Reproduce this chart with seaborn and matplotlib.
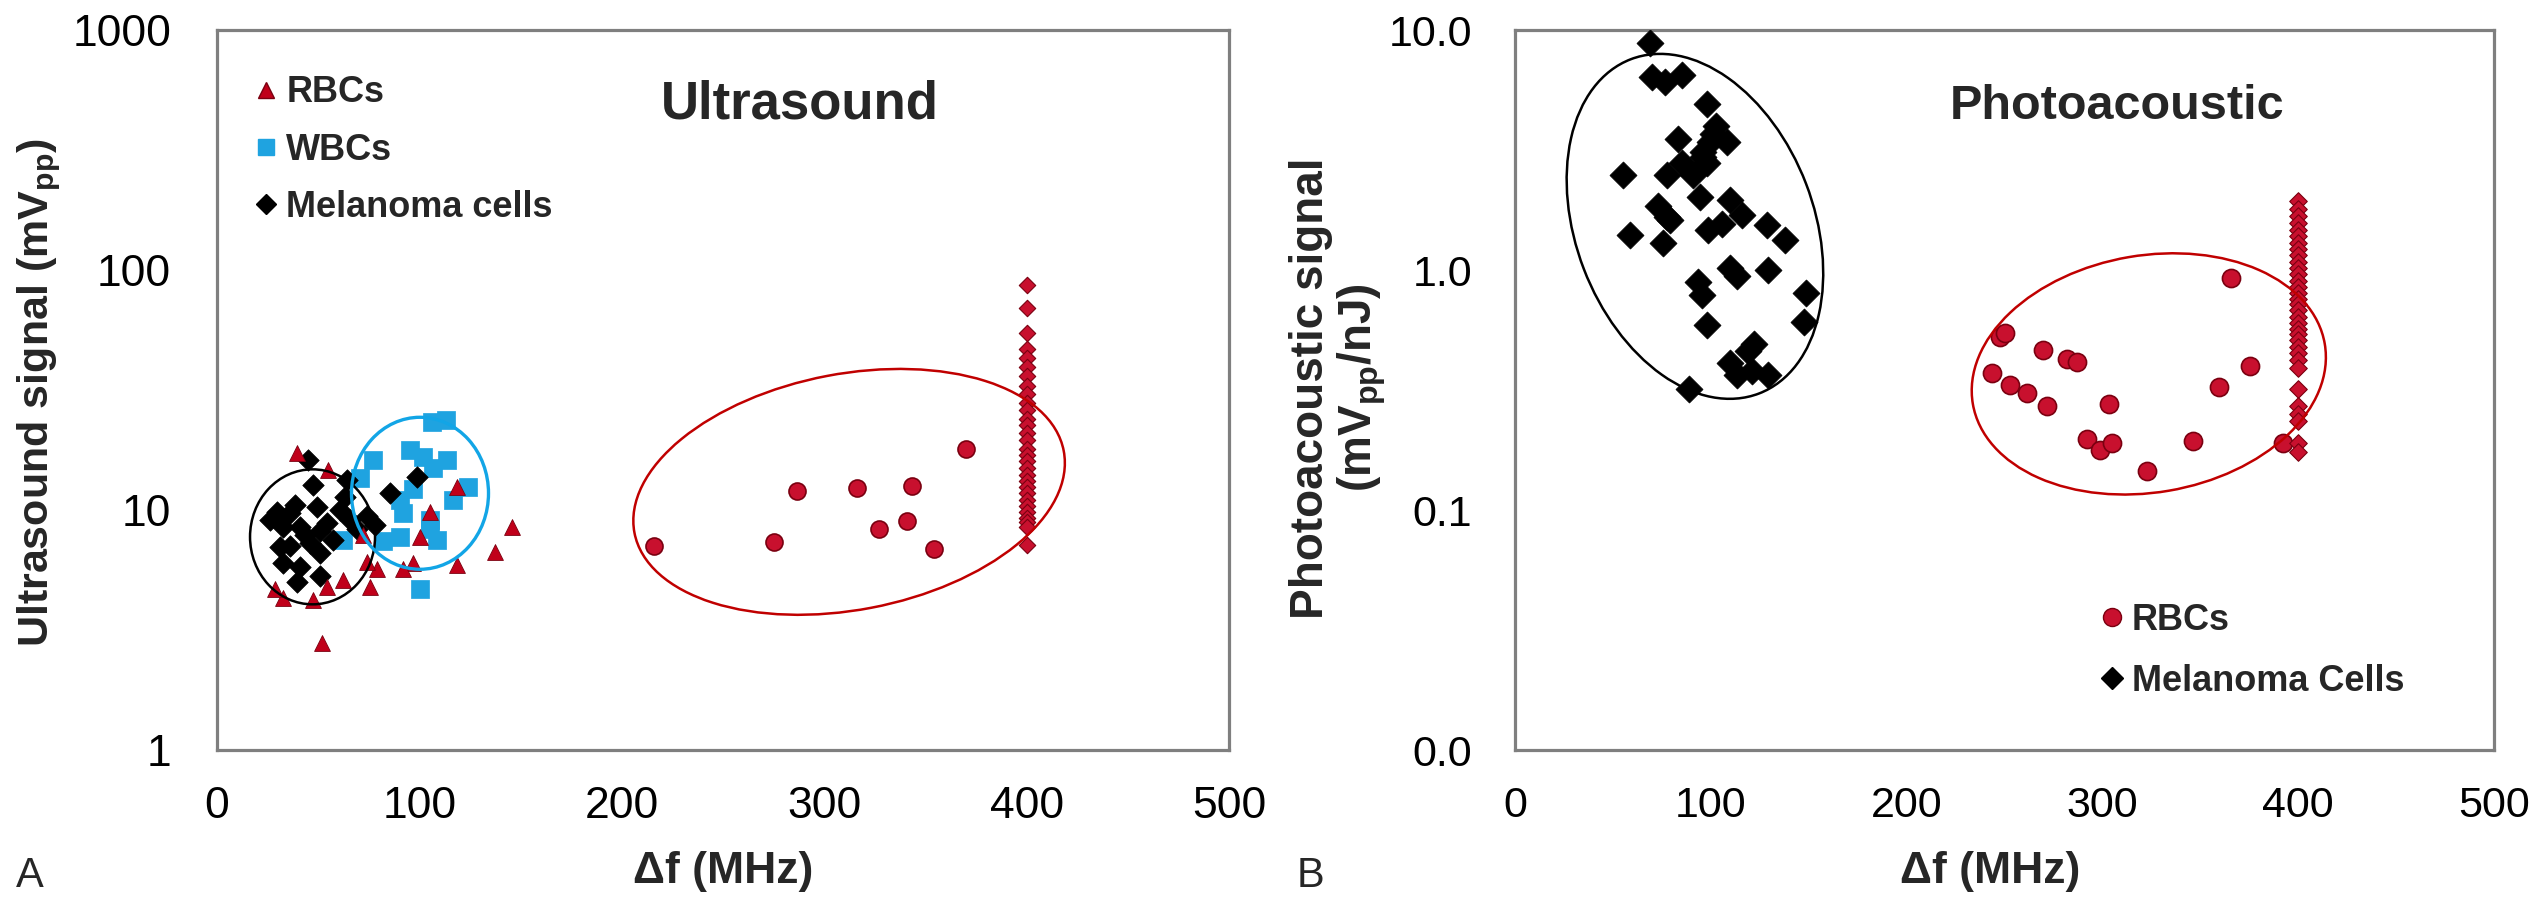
import matplotlib
matplotlib.use("Agg")
import matplotlib.pyplot as plt
import seaborn as sns
import pandas as pd
from matplotlib.patches import Ellipse
from matplotlib.lines import Line2D
from matplotlib.transforms import IdentityTransform
import matplotlib.ticker as mticker

# ---------------- Data ----------------
# Panel A: Ultrasound signal (mVpp) vs delta f (MHz)
us_rbc_tri_f = [39.5, 54.8, 105.2, 118.6, 145.7, 137.3, 118.6, 100.3, 96.8, 91.9, 79.0,
                75.6, 62.2, 54.3, 47.4, 32.6, 28.7, 51.9, 74.1, 72.0]
us_rbc_tri_v = [17.3, 14.7, 9.8, 12.5, 8.5, 6.7, 5.9, 7.7, 6.0, 5.7, 5.7,
                4.8, 5.1, 4.8, 4.2, 4.3, 4.7, 2.8, 6.1, 7.9]

us_wbc_f = [106.2, 113.1, 77.1, 95.3, 101.8, 113.6, 106.7, 70.6, 124.0, 96.8, 90.4,
            116.6, 91.9, 105.2, 108.7, 90.4, 82.0, 100.3, 62.2, 105.2]
us_wbc_v = [23.3, 23.7, 16.2, 17.8, 16.6, 16.2, 15.0, 13.6, 12.5, 12.2, 11.0,
            11.0, 9.7, 8.3, 7.5, 7.7, 7.4, 4.7, 7.5, 9.1]

us_mel_f = [45.0, 47.4, 64.2, 29.6, 36.1, 49.4, 60.8, 41.0, 54.3, 32.6, 69.2, 74.1,
            31.1, 45.9, 57.3, 32.6, 41.0, 50.9, 39.5, 50.9, 85.5, 98.8, 38.5, 26.2,
            63.2, 43.5, 36.1, 65.7, 50.9, 78.0]
us_mel_v = [16.2, 12.7, 13.3, 9.8, 9.7, 10.3, 10.0, 8.5, 8.8, 8.5, 8.3, 9.4,
            7.0, 7.3, 7.5, 6.0, 5.8, 6.6, 5.0, 5.3, 11.8, 13.7, 10.5, 9.1,
            11.3, 7.9, 7.1, 9.1, 8.2, 8.7]

us_rbc_circ_f = [216.0, 275.3, 286.4, 316.3, 327.2, 341.0, 343.5, 354.4, 370.0]
us_rbc_circ_v = [7.08, 7.33, 12.0, 12.4, 8.3, 9.0, 12.6, 6.9, 17.9]

COLUMN_F = 400
us_rbc_col_v = [86.6, 69.3, 54.5, 47.0, 43.0, 39.5, 36.0, 33.0, 30.5, 28.0, 26.0, 24.0,
                22.5, 21.0, 19.5, 18.0, 17.0, 16.0, 15.0, 14.0, 13.2, 12.5, 11.8, 11.0,
                10.4, 9.8, 9.3, 8.9, 8.5, 7.15]

# Panel B: Photoacoustic signal (mVpp/nJ) vs delta f (MHz)
pa_mel_f = [68.9, 69.8, 76.6, 85.1, 97.9, 102.7, 99.6, 108.1, 83.4, 96.2, 85.1, 97.9,
            55.3, 77.5, 90.8, 94.5, 109.8, 73.2, 77.5, 115.8, 98.7, 105.6, 128.5, 137.9,
            58.7, 75.7, 109.8, 113.2, 129.4, 93.6, 95.4, 148.6, 147.6, 97.9, 122.1, 119.2,
            109.8, 113.2, 120.9, 129.4, 89.0, 79.2, 101.3, 96.2]
pa_mel_v = [8.8, 6.4, 6.1, 6.5, 4.9, 4.0, 3.4, 3.4, 3.5, 2.97, 2.78, 2.78,
            2.49, 2.49, 2.49, 2.02, 1.96, 1.84, 1.67, 1.70, 1.47, 1.56, 1.54, 1.33,
            1.40, 1.29, 1.02, 0.94, 1.0, 0.89, 0.79, 0.80, 0.61, 0.59, 0.49, 0.46,
            0.41, 0.365, 0.38, 0.365, 0.32, 1.62, 3.7, 3.1]

pa_rbc_f = [247.7, 250.3, 269.8, 281.8, 286.9, 243.5, 252.8, 261.3, 271.6, 303.5,
            292.0, 298.8, 304.7, 322.6, 346.1, 359.7, 375.4, 365.5, 392.4]
pa_rbc_v = [0.527, 0.545, 0.464, 0.425, 0.415, 0.371, 0.332, 0.306, 0.271, 0.277,
            0.197, 0.178, 0.19, 0.145, 0.193, 0.325, 0.398, 0.93, 0.19]

pa_rbc_col_v = [1.93, 1.8, 1.68, 1.57, 1.47, 1.38, 1.3, 1.22, 1.15, 1.08, 1.02, 0.96,
                0.9, 0.85, 0.8, 0.76, 0.72, 0.68, 0.64, 0.6, 0.57, 0.54, 0.51, 0.48,
                0.45, 0.42, 0.39, 0.32, 0.27, 0.25, 0.235, 0.19, 0.175]

x_ticks = [0, 100, 200, 300, 400, 500]
x_ticklabels = ["0", "100", "200", "300", "400", "500"]
us_yticks = [1, 10, 100, 1000]
us_yticklabels = ["1", "10", "100", "1000"]
pa_yticks = [0.01, 0.1, 1, 10]
pa_yticklabels = ["0.0", "0.1", "1.0", "10.0"]

us_legend_labels = ["RBCs", "WBCs", "Melanoma cells"]
pa_legend_labels = ["RBCs", "Melanoma Cells"]

# ---------------- Style ----------------
sns.set_style("white")
plt.rcParams["font.family"] = ["Liberation Sans", "DejaVu Sans"]
plt.rcParams["mathtext.fontset"] = "custom"
plt.rcParams["mathtext.rm"] = "Liberation Sans:bold"
plt.rcParams["mathtext.it"] = "Liberation Sans:bold:italic"
plt.rcParams["mathtext.bf"] = "Liberation Sans:bold"

RED_TRI = "#C0001A"
RED_CIRC = "#C8102E"
RED_EDGE = "#7A0010"
BLUE = "#1FA3E0"
SPINE = "#7F7F7F"

fig = plt.figure(figsize=(25.42, 8.98), dpi=100)
axA = fig.add_axes([217 / 2542, 1 - 750 / 898, 1012 / 2542, 720 / 898])
axB = fig.add_axes([1515 / 2542, 1 - 750 / 898, 979 / 2542, 720 / 898])


def style_axis(ax, yticks, ylabels, tick_size, ypad):
    ax.set_xlim(0, 500)
    ax.set_yscale("log")
    ax.set_xticks(x_ticks)
    ax.set_xticklabels(x_ticklabels)
    ax.yaxis.set_major_locator(mticker.FixedLocator(yticks))
    ax.yaxis.set_major_formatter(mticker.FixedFormatter(ylabels))
    ax.yaxis.set_minor_locator(mticker.LogLocator(base=10, subs=range(2, 10)))
    ax.yaxis.set_minor_formatter(mticker.NullFormatter())
    for s in ax.spines.values():
        s.set_color(SPINE)
        s.set_linewidth(2.3)
        s.set_visible(True)
    ax.tick_params(axis="both", which="both", direction="in", color=SPINE,
                   labelsize=tick_size, labelcolor="black")
    ax.tick_params(axis="x", which="major", length=9, width=1.5, pad=26)
    ax.tick_params(axis="y", which="major", length=10, width=1.5, pad=ypad)
    ax.tick_params(axis="y", which="minor", length=6, width=1.2)
    ax.grid(False)


def add_ellipse(ax, cx, cy, w, h, ang, color, lw):
    px, py = ax.transData.transform((cx, cy))
    e = Ellipse((px, py), w, h, angle=ang, transform=IdentityTransform(),
                fill=False, edgecolor=color, linewidth=lw, zorder=6)
    ax.add_artist(e)


# ---------------- Panel A ----------------
style_axis(axA, us_yticks, us_yticklabels, 32, 33)
axA.set_ylim(1, 1000)

sns.scatterplot(x=us_wbc_f, y=us_wbc_v, ax=axA, marker="s", color=BLUE,
                edgecolor=BLUE, linewidth=0.5, s=150, legend=False, zorder=3)
sns.scatterplot(x=us_mel_f, y=us_mel_v, ax=axA, marker="D", color="black",
                edgecolor="black", linewidth=0.5, s=120, legend=False, zorder=4)
sns.scatterplot(x=us_rbc_tri_f, y=us_rbc_tri_v, ax=axA, marker="^", color=RED_TRI,
                edgecolor=RED_EDGE, linewidth=0.6, s=130, legend=False, zorder=5)
sns.scatterplot(x=us_rbc_circ_f, y=us_rbc_circ_v, ax=axA, marker="o", color=RED_CIRC,
                edgecolor=RED_EDGE, linewidth=1.2, s=150, legend=False, zorder=5)
sns.scatterplot(x=[COLUMN_F] * len(us_rbc_col_v), y=us_rbc_col_v, ax=axA, marker="D",
                color=RED_CIRC, edgecolor=RED_EDGE, linewidth=0.8, s=70,
                legend=False, zorder=5)

axA.set_xlabel("\u0394f (MHz)", fontsize=32, fontweight="bold")
axA.xaxis.set_label_coords(0.50, -0.14)
axA.set_ylabel("Ultrasound signal (mV$_{\\rm pp}$)", fontsize=31, fontweight="bold")
axA.yaxis.set_label_coords(-0.152, 0.496)
axA.text(0.576, 0.896, "Ultrasound", transform=axA.transAxes, ha="center",
         va="center", fontsize=38, fontweight="bold")

hA = [Line2D([], [], marker="^", ls="None", color=RED_TRI, markeredgecolor=RED_EDGE,
             markersize=12),
      Line2D([], [], marker="s", ls="None", color=BLUE, markersize=12),
      Line2D([], [], marker="D", ls="None", color="black", markersize=10)]
axA.legend(hA, us_legend_labels, loc="upper left", bbox_to_anchor=(0.038, 0.937),
           frameon=False, prop={"weight": "bold", "size": 26}, handlelength=0.6,
           handletextpad=0.25, labelspacing=0.62, borderpad=0, borderaxespad=0)

add_ellipse(axA, 47.2, 7.73, 125, 135, 0, "black", 1.8)
add_ellipse(axA, 100.3, 11.74, 137, 152, 0, "#12A5E6", 2.4)
add_ellipse(axA, 312.3, 11.9, 437, 236, 10.8, "#C00000", 1.8)

# ---------------- Panel B ----------------
style_axis(axB, pa_yticks, pa_yticklabels, 31, 31)
axB.set_ylim(0.01, 10)

sns.scatterplot(x=pa_mel_f, y=pa_mel_v, ax=axB, marker="D", color="black",
                edgecolor="black", linewidth=0.5, s=190, legend=False, zorder=4)
sns.scatterplot(x=pa_rbc_f, y=pa_rbc_v, ax=axB, marker="o", color=RED_CIRC,
                edgecolor=RED_EDGE, linewidth=1.2, s=170, legend=False, zorder=4)
sns.scatterplot(x=[COLUMN_F] * len(pa_rbc_col_v), y=pa_rbc_col_v, ax=axB, marker="D",
                color=RED_CIRC, edgecolor=RED_EDGE, linewidth=0.8, s=80,
                legend=False, zorder=4)

axB.set_xlabel("\u0394f (MHz)", fontsize=32, fontweight="bold")
axB.xaxis.set_label_coords(0.485, -0.14)
axB.set_ylabel("Photoacoustic signal\n(mV$_{\\rm pp}$/nJ)", fontsize=33,
               fontweight="bold", linespacing=1.05)
axB.yaxis.set_label_coords(-0.130, 0.503)
axB.text(0.615, 0.894, "Photoacoustic", transform=axB.transAxes, ha="center",
         va="center", fontsize=35, fontweight="bold")

hB = [Line2D([], [], marker="o", ls="None", color=RED_CIRC, markeredgecolor=RED_EDGE,
             markersize=13),
      Line2D([], [], marker="D", ls="None", color="black", markersize=11)]
axB.legend(hB, pa_legend_labels, loc="upper left", bbox_to_anchor=(0.599, 0.204),
           frameon=False, prop={"weight": "bold", "size": 26}, handlelength=0.6,
           handletextpad=0.25, labelspacing=0.72, borderpad=0, borderaxespad=0)

add_ellipse(axB, 91.9, 1.52, 238, 358, 21, "black", 1.8)
add_ellipse(axB, 323.7, 0.369, 357, 237, 9.7, "#C00000", 1.8)

# Panel letters
fig.text(30 / 2542, 1 - 876 / 898, "A", fontsize=30, ha="center", va="center")
fig.text(1310 / 2542, 1 - 876 / 898, "B", fontsize=30, ha="center", va="center")

fig.savefig("out.png", dpi=100, facecolor="white")
